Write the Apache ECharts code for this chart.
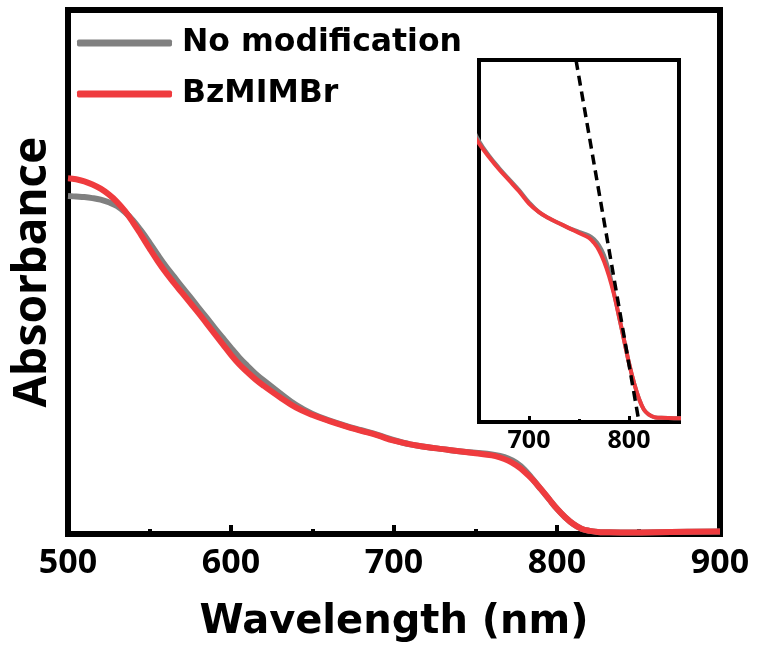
<!DOCTYPE html>
<html>
<head>
<meta charset="utf-8">
<script src="https://cdn.jsdelivr.net/npm/echarts@6/dist/echarts.min.js"></script>
<style>
html,body{margin:0;padding:0;background:#fff;}
#chart{width:757px;height:657px;}
</style>
</head>
<body>
<div id="chart"></div>
<script>
// Wavelength sample points (nm)
var wavelengths = [500,505,510,515,520,525,530,535,540,545,550,555,560,565,570,575,580,585,590,595,600,605,610,615,620,630,640,650,660,670,680,690,700,710,720,730,740,750,760,765,770,775,780,785,790,795,800,805,810,815,820,825,830,845,870,900];
// Absorbance, BzMIMBr
var bzmimbr = [0.679,0.677,0.673,0.667,0.659,0.648,0.634,0.616,0.594,0.570,0.545,0.521,0.499,0.479,0.460,0.441,0.422,0.402,0.382,0.362,0.342,0.324,0.309,0.295,0.283,0.261,0.241,0.227,0.216,0.206,0.197,0.188,0.178,0.171,0.166,0.162,0.158,0.154,0.150,0.146,0.140,0.131,0.119,0.104,0.086,0.067,0.048,0.032,0.019,0.010,0.006,0.004,0.0035,0.003,0.004,0.005];
// Absorbance, No modification
var noModification = [0.645,0.644,0.643,0.641,0.638,0.633,0.626,0.614,0.598,0.578,0.556,0.533,0.511,0.491,0.471,0.452,0.432,0.413,0.393,0.374,0.355,0.337,0.321,0.306,0.293,0.269,0.246,0.229,0.217,0.207,0.198,0.189,0.179,0.171,0.166,0.162,0.158,0.155,0.152,0.149,0.144,0.136,0.123,0.105,0.086,0.067,0.048,0.032,0.019,0.010,0.006,0.004,0.0035,0.003,0.004,0.005];
// Tangent (dashed) line in inset
var tangentX = [747, 810];
var tangentY = [0.295, 0.0];
// Tick labels
var mainTicks = [500,600,700,800,900];
var insetTicks = [700,800];
var insetMinorTicks = [750];
var seriesNames = ['No modification','BzMIMBr'];

function zip(xs, ys){ return xs.map(function(x,i){ return [x, ys[i]]; }); }

var RED = '#ef3b3e', GRAY = '#808080';
var chart = echarts.init(document.getElementById('chart'), null, {renderer:'canvas'});
chart.setOption({
  animation: false,
  backgroundColor: '#fff',
  legend: {
    data: seriesNames,
    orient: 'vertical',
    left: 77, top: 23,
    padding: 0,
    itemWidth: 95, itemHeight: 7,
    itemGap: 11,
    icon: 'roundRect',
    textStyle: {fontFamily:'DejaVu Sans', fontWeight:'bold', fontSize:31.5, color:'#000', lineHeight:40, padding:[0,0,0,5]}
  },
  grid: [
    {left:68, right:37, top:10, bottom:123, show:true, borderColor:'#000', borderWidth:6, backgroundColor:'transparent'},
    {left:479, top:60, width:200, height:362, show:true, borderColor:'#000', borderWidth:4, backgroundColor:'#fff'}
  ],
  xAxis: [
    {type:'value', gridIndex:0, min:500, max:900, interval:100,
     name:'Wavelength (nm)', nameLocation:'middle', nameGap:69,
     nameTextStyle:{fontFamily:'DejaVu Sans', fontWeight:'bold', fontSize:40, color:'#000'},
     axisLine:{show:false},
     axisTick:{show:true, inside:true, length:9, lineStyle:{color:'#000', width:4}},
     minorTick:{show:true, splitNumber:2, length:5, lineStyle:{color:'#000', width:4}},
     splitLine:{show:false}, minorSplitLine:{show:false},
     axisLabel:{fontFamily:'Noto Sans', fontWeight:'bold', fontSize:34, color:'#000', margin:12,
       customValues: mainTicks}
    },
    {type:'value', gridIndex:1, min:650, max:850,
     axisLine:{show:false},
     axisTick:{show:true, inside:true, length:6, lineStyle:{color:'#000', width:3}, customValues: insetTicks},
     splitLine:{show:false},
     axisLabel:{fontFamily:'Noto Sans', fontWeight:'bold', fontSize:25, color:'#000', margin:6, customValues: insetTicks}
    },
    {type:'value', gridIndex:1, min:650, max:850, position:'bottom',
     axisLine:{show:false},
     axisTick:{show:true, inside:true, length:3, lineStyle:{color:'#000', width:3}, customValues: insetMinorTicks},
     splitLine:{show:false},
     axisLabel:{show:false}
    }
  ],
  yAxis: [
    {type:'value', gridIndex:0, min:0, max:1,
     name:'Absorbance', nameLocation:'middle', nameGap:12,
     nameTextStyle:{fontFamily:'Noto Sans', fontWeight:'bold', fontSize:46, color:'#000'},
     axisLine:{show:false}, axisTick:{show:false}, axisLabel:{show:false}, splitLine:{show:false}},
    {type:'value', gridIndex:1, min:0, max:0.295, show:false}
  ],
  series: [
    {name:seriesNames[0], type:'line', xAxisIndex:0, yAxisIndex:0, data:zip(wavelengths,noModification),
     smooth:0.4, symbol:'none', itemStyle:{color:GRAY}, lineStyle:{color:GRAY, width:6}},
    {name:seriesNames[1], type:'line', xAxisIndex:0, yAxisIndex:0, data:zip(wavelengths,bzmimbr),
     smooth:0.4, symbol:'none', itemStyle:{color:RED}, lineStyle:{color:RED, width:6}},
    {name:seriesNames[0], type:'line', xAxisIndex:1, yAxisIndex:1, data:zip(wavelengths,noModification),
     smooth:0.4, symbol:'none', itemStyle:{color:GRAY}, lineStyle:{color:GRAY, width:4}},
    {name:seriesNames[1], type:'line', xAxisIndex:1, yAxisIndex:1, data:zip(wavelengths,bzmimbr),
     smooth:0.4, symbol:'none', itemStyle:{color:RED}, lineStyle:{color:RED, width:4}},
    {name:'tangent', type:'line', xAxisIndex:1, yAxisIndex:1, data:zip(tangentX,tangentY),
     symbol:'none', lineStyle:{color:'#000', width:3.5, type:[10,6]}, z:5}
  ]
});
</script>
</body>
</html>
